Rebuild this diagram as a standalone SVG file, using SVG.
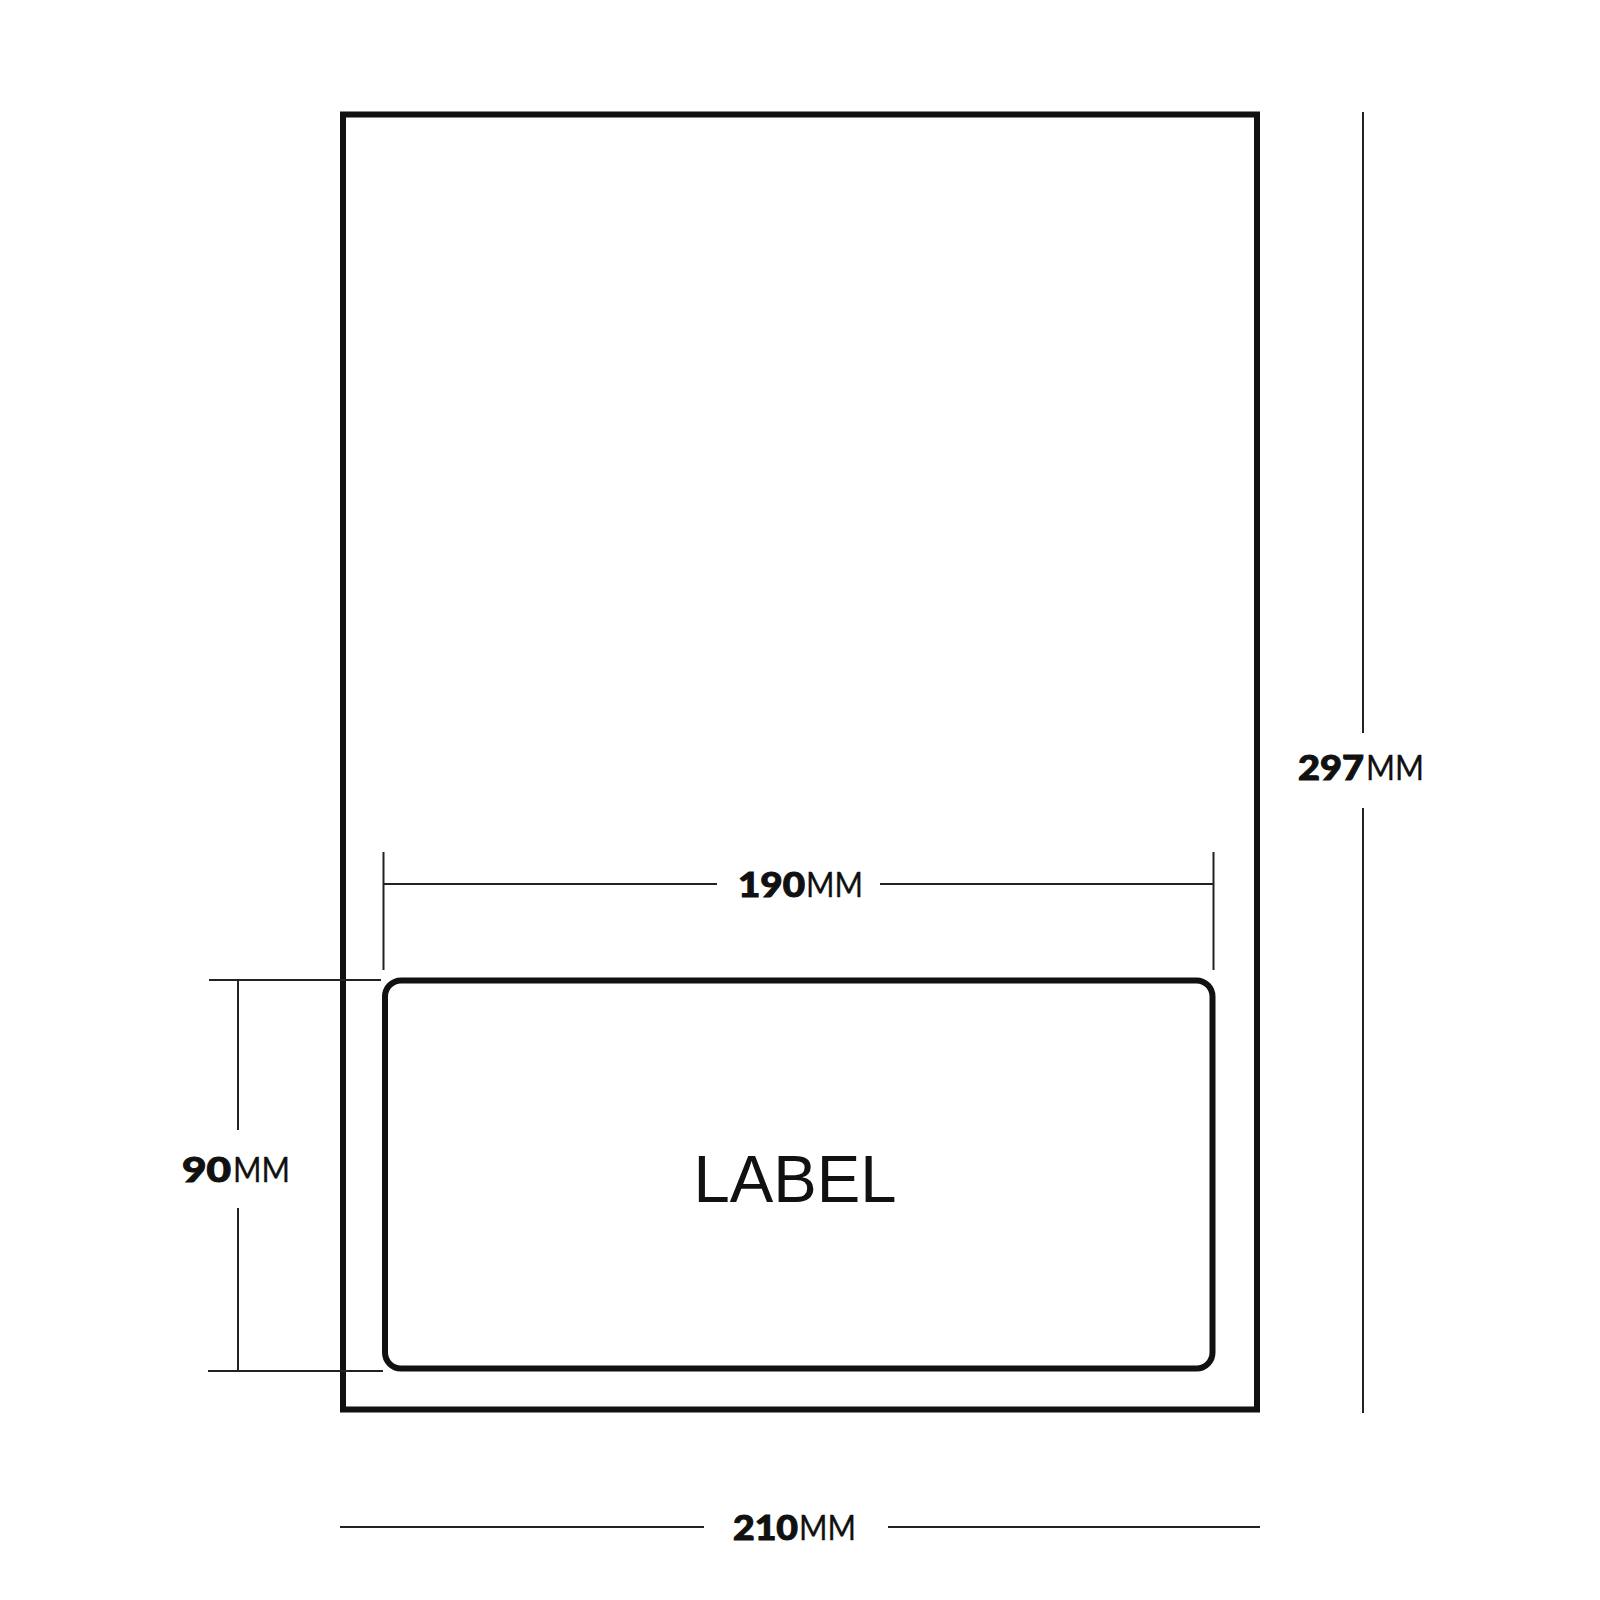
<svg xmlns="http://www.w3.org/2000/svg" width="1600" height="1600" viewBox="0 0 1600 1600">
<style>
.sheet{fill:#fff;stroke:#111;stroke-width:6}
.label{fill:#fff;stroke:#111;stroke-width:6}
.dim{stroke:#222;stroke-width:2;fill:none}
.num{font-family:Lato,"Noto Sans",sans-serif;font-weight:900;font-size:34px;fill:#111;stroke:#111;stroke-width:1}
.unit{font-family:Lato,"Noto Sans",sans-serif;font-weight:400;font-size:34px;fill:#111;stroke:#111;stroke-width:0.3}
.lbl{font-family:"Liberation Sans",Arial,sans-serif;font-size:67px;fill:#111}
</style>
<rect width="1600" height="1600" fill="#fff"/>
<g id="sheet">
<rect class="sheet" x="343" y="114.5" width="914" height="1295"/>
</g>
<g id="label">
<rect class="label" x="385" y="980.5" width="827.5" height="388" rx="16" ry="16"/>
<text class="lbl" x="795" y="1202" text-anchor="middle" textLength="203" lengthAdjust="spacingAndGlyphs">LABEL</text>
</g>
<g id="connectors">
<line class="dim" x1="383.5" y1="852" x2="383.5" y2="970"/>
<line class="dim" x1="1213.5" y1="852" x2="1213.5" y2="970"/>
<line class="dim" x1="383.5" y1="884" x2="717" y2="884"/>
<line class="dim" x1="880" y1="884" x2="1213.5" y2="884"/>
<line class="dim" x1="1363" y1="112" x2="1363" y2="733"/>
<line class="dim" x1="1363" y1="808" x2="1363" y2="1413"/>
<line class="dim" x1="209" y1="980" x2="381" y2="980"/>
<line class="dim" x1="208" y1="1371" x2="383" y2="1371"/>
<line class="dim" x1="238" y1="980" x2="238" y2="1130"/>
<line class="dim" x1="238" y1="1208" x2="238" y2="1371"/>
<line class="dim" x1="340" y1="1527" x2="704" y2="1527"/>
<line class="dim" x1="888" y1="1527" x2="1260" y2="1527"/>
</g>
<g id="dim-190">
<text class="num" x="738" y="897" textLength="67" lengthAdjust="spacingAndGlyphs">190</text>
<text class="unit" x="806" y="897" textLength="57" lengthAdjust="spacingAndGlyphs">MM</text>
</g>
<g id="dim-297">
<text class="num" x="1298" y="780" textLength="66" lengthAdjust="spacingAndGlyphs">297</text>
<text class="unit" x="1366" y="780" textLength="58" lengthAdjust="spacingAndGlyphs">MM</text>
</g>
<g id="dim-90">
<text class="num" x="182" y="1182" textLength="49" lengthAdjust="spacingAndGlyphs">90</text>
<text class="unit" x="233" y="1182" textLength="57" lengthAdjust="spacingAndGlyphs">MM</text>
</g>
<g id="dim-210">
<text class="num" x="733" y="1540" textLength="65" lengthAdjust="spacingAndGlyphs">210</text>
<text class="unit" x="799" y="1540" textLength="57" lengthAdjust="spacingAndGlyphs">MM</text>
</g>
</svg>
